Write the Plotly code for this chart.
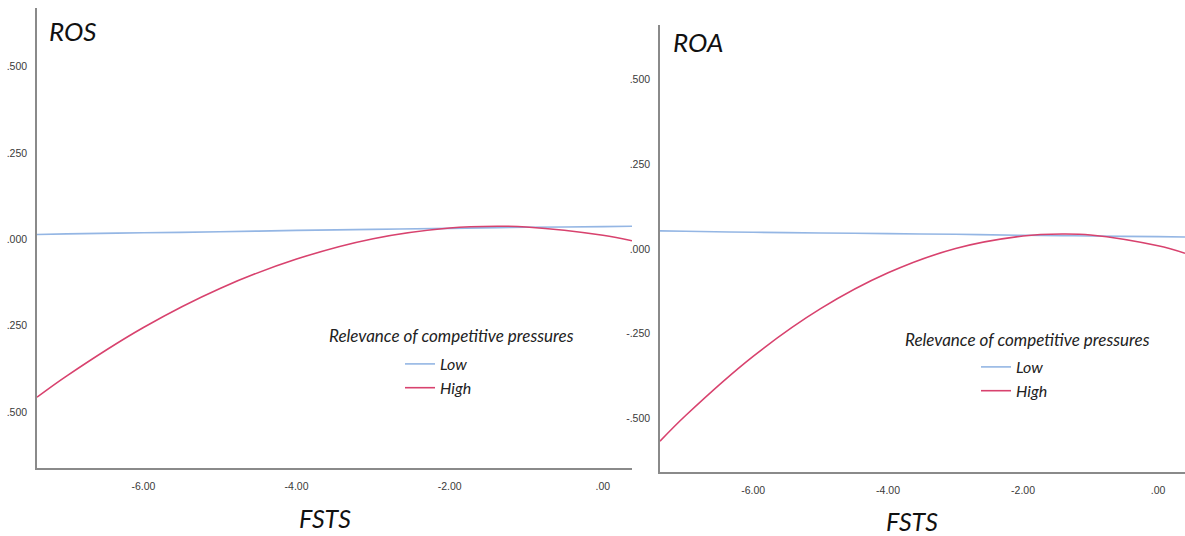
import plotly.graph_objects as go

# ---- data ----
ros_x = [-7.39, -7.0, -6.0, -5.0, -4.0, -3.0, -2.0, -1.37, -1.0, 0.0, 0.38]
ros_low = [0.014, 0.016, 0.019, 0.022, 0.026, 0.029, 0.032, 0.034, 0.035, 0.037, 0.038]
ros_high = [-0.457, -0.395, -0.255, -0.142, -0.057, 0.002, 0.033, 0.038, 0.036, 0.012, -0.004]

roa_x = [-7.38, -7.0, -6.0, -5.0, -4.0, -3.0, -2.0, -1.42, -1.0, 0.0, 0.4]
roa_low = [0.053, 0.052, 0.049, 0.047, 0.045, 0.043, 0.040, 0.039, 0.038, 0.036, 0.035]
roa_high = [-0.569, -0.493, -0.318, -0.177, -0.071, 0.001, 0.038, 0.044, 0.041, 0.009, -0.013]

x_tickvals = [-6, -4, -2, 0]
x_ticktext = ["-6.00", "-4.00", "-2.00", ".00"]
y_tickvals = [0.5, 0.25, 0.0, -0.25, -0.5]
y_ticktext_ros = [".500", ".250", ".000", ".250", ".500"]
y_ticktext_roa = [".500", ".250", ".000", "-.250", "-.500"]

series_names = ["Low", "High"]
colors = ["#94b6e4", "#d8426e"]

W, H = 1185, 536
fig = go.Figure()

for i, (name, ys) in enumerate(zip(series_names, [ros_low, ros_high])):
    fig.add_trace(go.Scatter(x=ros_x, y=ys, mode="lines", name=name,
                             line=dict(color=colors[i], width=1.6, shape="spline"),
                             xaxis="x", yaxis="y", legend="legend"))
for i, (name, ys) in enumerate(zip(series_names, [roa_low, roa_high])):
    fig.add_trace(go.Scatter(x=roa_x, y=ys, mode="lines", name=name,
                             line=dict(color=colors[i], width=1.6, shape="spline"),
                             xaxis="x2", yaxis="y2", legend="legend2"))

tickfont = dict(family="Liberation Sans", size=10.5, color="#3a3a3a")
axis_common = dict(showgrid=False, zeroline=False, showline=True, linecolor="#8a8a8a",
                   linewidth=1.5, ticks="", tickfont=tickfont)

leg_font = dict(family="Lato", size=16, color="#222222", style="italic")
fig.update_layout(
    width=W, height=H, margin=dict(l=0, r=0, t=0, b=0),
    paper_bgcolor="white", plot_bgcolor="white",
    font=dict(family="Lato"),
    xaxis=dict(domain=[37 / W, 632 / W], range=[-7.39, 0.38], tickvals=x_tickvals,
               ticktext=x_ticktext, anchor="y", ticklabelstandoff=8, **axis_common),
    yaxis=dict(domain=[(H - 468) / H, (H - 8) / H], range=[-0.662, 0.67],
               tickvals=y_tickvals, ticktext=y_ticktext_ros, anchor="x",
               ticklabelstandoff=6, **axis_common),
    xaxis2=dict(domain=[660 / W, 1.0], range=[-7.38, 0.4], tickvals=x_tickvals,
                ticktext=x_ticktext, anchor="y2", ticklabelstandoff=8, **axis_common),
    yaxis2=dict(domain=[(H - 472) / H, (H - 25) / H], range=[-0.66, 0.662],
                tickvals=y_tickvals, ticktext=y_ticktext_roa, anchor="x2",
                ticklabelstandoff=6, **axis_common),
    legend=dict(x=400 / W, y=(H - 347) / H, xanchor="left", yanchor="top",
                bgcolor="rgba(0,0,0,0)", itemwidth=30, tracegroupgap=0, font=leg_font),
    legend2=dict(x=976 / W, y=(H - 350) / H, xanchor="left", yanchor="top",
                 bgcolor="rgba(0,0,0,0)", itemwidth=30, tracegroupgap=0, font=leg_font),
)

ann_font_big = dict(family="Lato", size=26, color="#111111", style="italic")
ann_font_fsts = dict(family="Lato", size=25, color="#111111", style="italic")
ann_font_leg = dict(family="Lato", size=17, color="#222222", style="italic")
annotations = [
    dict(text="ROS", x=47 / W, y=(H - 31) / H, xref="paper", yref="paper",
         xanchor="left", yanchor="middle", showarrow=False, font=ann_font_big),
    dict(text="ROA", x=671 / W, y=(H - 42) / H, xref="paper", yref="paper",
         xanchor="left", yanchor="middle", showarrow=False, font=ann_font_big),
    dict(text="FSTS", x=325 / W, y=(H - 518) / H, xref="paper", yref="paper",
         xanchor="center", yanchor="middle", showarrow=False, font=ann_font_fsts),
    dict(text="FSTS", x=912 / W, y=(H - 521) / H, xref="paper", yref="paper",
         xanchor="center", yanchor="middle", showarrow=False, font=ann_font_fsts),
    dict(text="Relevance of competitive pressures", x=327 / W, y=(H - 335) / H,
         xref="paper", yref="paper", xanchor="left", yanchor="middle",
         showarrow=False, font=ann_font_leg),
    dict(text="Relevance of competitive pressures", x=903 / W, y=(H - 339) / H,
         xref="paper", yref="paper", xanchor="left", yanchor="middle",
         showarrow=False, font=ann_font_leg),
]
fig.update_layout(annotations=annotations)

fig.write_html("out.html", config={"displayModeBar": False},
               post_script="document.body.style.margin='0';document.body.style.overflow='hidden';")
